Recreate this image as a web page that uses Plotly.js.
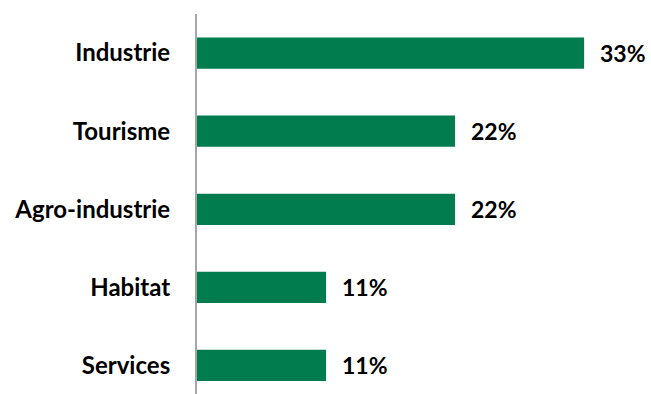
<!DOCTYPE html>
<html>
<head>
<meta charset="utf-8">
<script src="https://cdn.plot.ly/plotly-3.0.1.min.js"></script>
<style>html,body{margin:0;padding:0;background:#fff;}</style>
</head>
<body>
<div id="chart" style="width:651px;height:394px;"></div>
<script>
const categories = ["Industrie", "Tourisme", "Agro-industrie", "Habitat", "Services"];
const values = [33, 22, 22, 11, 11];
const labels = ["33%", "22%", "22%", "11%", "11%"];

const barColor = "#017C4F";
const font = {family: "Lato, 'Open Sans', sans-serif", size: 23, color: "#000"};

const trace = {
  type: "bar",
  orientation: "h",
  x: values,
  y: categories,
  marker: {color: barColor},
  width: 0.4,
  hoverinfo: "none"
};

const annotations = categories.map((c, i) => ({
  x: values[i], y: c, xref: "x", yref: "y",
  text: "<b>" + labels[i] + "</b>",
  showarrow: false, xanchor: "left", yanchor: "middle",
  xshift: 14, font: font
}));

const layout = {
  width: 651, height: 394,
  margin: {l: 197, r: 10, t: 14, b: 0},
  paper_bgcolor: "#fff", plot_bgcolor: "#fff",
  showlegend: false,
  xaxis: {range: [0, 37.85], visible: false, fixedrange: true},
  yaxis: {
    type: "category",
    range: [4.365, -0.5],
    showline: true, linecolor: "#A6A6A6", linewidth: 2,
    showgrid: false, zeroline: false, ticks: "",
    ticklabelstandoff: 20,
    tickfont: {family: font.family, size: 24, color: "#000", weight: 700}
  },
  annotations: annotations
};

Plotly.newPlot("chart", [trace], layout, {displayModeBar: false, staticPlot: true});
</script>
</body>
</html>
